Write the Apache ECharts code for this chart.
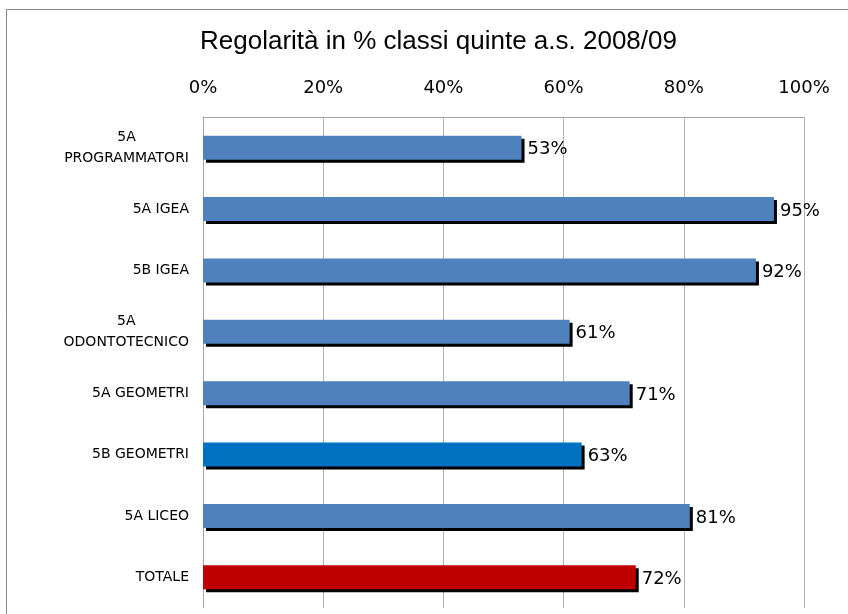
<!DOCTYPE html>
<html>
<head>
<meta charset="utf-8">
<script src="https://cdn.jsdelivr.net/npm/echarts@6/dist/echarts.min.js"></script>
<style>
    html, body { margin: 0; padding: 0; background: #fff; }
    #regolarita { width: 848px; height: 614px; }
</style>
</head>
<body>
<div id="regolarita"></div>
<script>
    // classi e percentuali
    var classi = ['5A\nPROGRAMMATORI', '5A IGEA', '5B IGEA', '5A\nODONTOTECNICO', '5A GEOMETRI', '5B GEOMETRI', '5A LICEO', 'TOTALE'];
    var regolarita = [53, 95, 92, 61, 71, 63, 81, 72];
    var colori = ['#4F81BD', '#4F81BD', '#4F81BD', '#4F81BD', '#4F81BD', '#0070C0', '#4F81BD', '#C00000'];
    var tickPercent = [0, 20, 40, 60, 80, 100];

    var chart = echarts.init(document.getElementById('regolarita'));

    var barData = [];
    for (let i = 0; i < regolarita.length; i++) {
        barData.push({
            value: regolarita[i],
            itemStyle: { color: colori[i] }
        });
    }

    var option = {
        animation: false,
        backgroundColor: '#fff',
        title: {
            text: 'Regolarità in % classi quinte a.s. 2008/09',
            left: 195,
            top: 24,
            textStyle: {
                fontFamily: 'Liberation Sans',
                fontSize: 26,
                fontWeight: 'normal',
                color: '#000'
            }
        },
        graphic: [{
            type: 'rect',
            shape: { x: 6.5, y: 9.5, width: 900, height: 700 },
            style: { fill: 'none', stroke: '#888', lineWidth: 1 },
            silent: true
        }],
        grid: {
            left: 203,
            right: 44,
            top: 117,
            bottom: 6
        },
        xAxis: {
            type: 'value',
            position: 'top',
            min: tickPercent[0],
            max: tickPercent[tickPercent.length - 1],
            interval: 20,
            axisLine: { show: true, lineStyle: { color: '#A6A6A6' } },
            axisTick: { show: false },
            axisLabel: {
                margin: 20,
                fontFamily: 'DejaVu Sans',
                fontSize: 18,
                color: '#000',
                formatter: '{value}%'
            },
            splitLine: { show: true, lineStyle: { color: '#B3B3B3' } }
        },
        yAxis: {
            type: 'category',
            inverse: true,
            data: classi,
            axisLine: { show: true, lineStyle: { color: '#A6A6A6' } },
            axisTick: { show: false },
            axisLabel: {
                margin: 14,
                color: '#000',
                formatter: function (v) {
                    return v.split('\n').map(function (r) { return '{c|' + r + '}'; }).join('\n');
                },
                rich: {
                    c: { align: 'center', fontFamily: 'DejaVu Sans', fontSize: 14, lineHeight: 21, color: '#000' }
                }
            }
        },
        series: [{
            type: 'bar',
            data: barData,
            barWidth: 24,
            itemStyle: {
                shadowColor: '#000',
                shadowBlur: 0,
                shadowOffsetX: 3,
                shadowOffsetY: 3
            },
            label: {
                show: true,
                position: 'right',
                distance: 6,
                offset: [0, 2],
                fontFamily: 'DejaVu Sans',
                fontSize: 18,
                color: '#000',
                formatter: '{c}%'
            }
        }]
    };

    chart.setOption(option);
</script>
</body>
</html>
